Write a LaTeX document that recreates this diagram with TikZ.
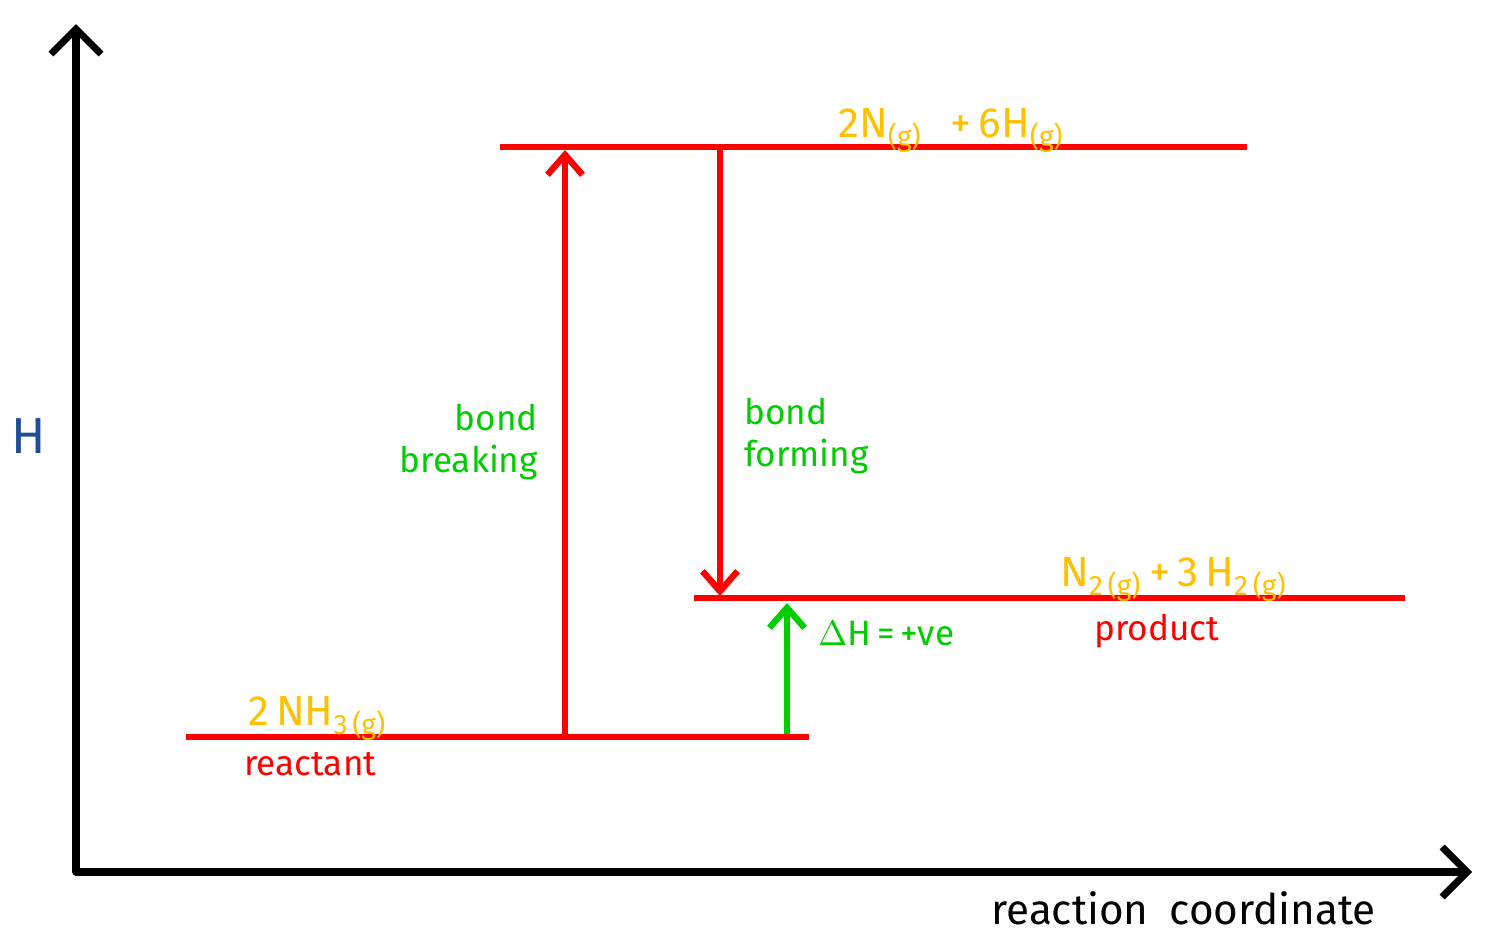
\documentclass[tikz,border=0pt]{standalone}
\usepackage{fontspec}
\setmainfont{Fira Sans}
\usetikzlibrary{positioning, arrows.meta}
\definecolor{mRed}{HTML}{FF0000}
\definecolor{mGold}{HTML}{FFC000}
\definecolor{mGreen}{HTML}{00CC00}
\definecolor{mBlue}{HTML}{1F4E99}

\begin{document}
\begin{tikzpicture}[
  x=0.01cm, y=-0.01cm,
  every node/.style={inner sep=1pt},
  axis/.style={line width=2pt, line cap=round, -{Straight Barb[length=2.5mm, width=5mm, line width=2pt]}},
  level/.style={mRed, line width=1.8pt},
  step arrow/.style={line width=1.8pt, -{Straight Barb[length=2mm, width=3.5mm]}},
  species/.style={mGold, font=\large},
  tag/.style={mRed, font=\normalsize},
  note/.style={mGreen, font=\normalsize, align=left},
]
  % Background
  \useasboundingbox (0,0) rectangle (1491,942);

  % Axes
  \coordinate (origin) at (76,872);
  \coordinate (ytop) at (76,24);
  \coordinate (xend) at (1472,872);
  \draw[axis] (origin) -- (ytop);
  \draw[axis] (origin) -- (xend);
  \node[mBlue, font=\Large] (hlabel) at (29,436) {H};
  \node[font=\large, anchor=base east] (xlabel) at (1380,924) {reaction\enspace coordinate};

  % Energy levels
  \coordinate (atomsL) at (500,147);
  \coordinate (atomsR) at (1247,147);
  \coordinate (prodL) at (694,598);
  \coordinate (prodR) at (1405,598);
  \coordinate (reacL) at (186,737);
  \coordinate (reacR) at (809,737);
  \draw[level] (atomsL) -- (atomsR);
  \draw[level] (prodL) -- (prodR);
  \draw[level] (reacL) -- (reacR);

  % Level labels
  \node[species, anchor=base west] (atoms) at (834,137) {2N\textsubscript{(g)}\enspace\,+\,6H\textsubscript{(g)}};
  \node[species, anchor=base west] (prodsp) at (1056,586) {N\textsubscript{2\,(g)}\,+\,3\,H\textsubscript{2\,(g)}};
  \node[tag, anchor=base west] (prod) at (1090,640) {product};
  \node[species, anchor=base west] (reacsp) at (244,725) {2\,NH\textsubscript{3\,(g)}};
  \node[tag, anchor=base west] (reac) at (240,775) {reactant};

  % Steps
  \coordinate (brkA) at (565,737);
  \coordinate (brkB) at (565,150);
  \coordinate (frmA) at (720,147);
  \coordinate (frmB) at (720,596);
  \coordinate (dhA) at (787,734);
  \coordinate (dhB) at (787,603);
  \draw[step arrow, mRed] (brkA) -- (brkB);
  \draw[step arrow, mRed] (frmA) -- (frmB);
  \draw[step arrow, mGreen] (dhA) -- (dhB);
  \node[note, align=right, anchor=east] (brk) at (542,442) {bond\\breaking};
  \node[note, anchor=west] (frm) at (740,436) {bond\\forming};
  \node[note, anchor=base west] (dh) at (814,645) {$\Delta$H\,=\,+ve};
\end{tikzpicture}
\end{document}
